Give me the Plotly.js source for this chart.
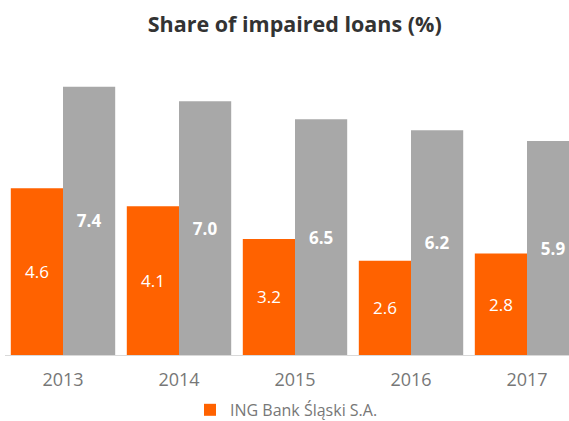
<!DOCTYPE html>
<html>
<head>
<meta charset="utf-8">
<script src="https://cdn.plot.ly/plotly-3.0.1.min.js"></script>
<style>html,body{margin:0;padding:0;background:#fff;}#chart{width:569px;height:421px;}</style>
</head>
<body>
<div id="chart"></div>
<script>
const years = ['2013', '2014', '2015', '2016', '2017'];
const ingValues = [4.6, 4.1, 3.2, 2.6, 2.8];
const sectorValues = [7.4, 7.0, 6.5, 6.2, 5.9];
const ingName = 'ING Bank Śląski S.A.';
const sectorName = 'Banking sector';

const fontFam = '"Open Sans", "DejaVu Sans", sans-serif';

const traces = [
  {
    type: 'bar', name: ingName, x: years, y: ingValues,
    marker: {color: '#FF6200'},
    text: ingValues.map(v => v.toFixed(1)),
    textposition: 'inside', insidetextanchor: 'middle', textangle: 0,
    insidetextfont: {color: '#ffffff', size: 17, family: fontFam},
    hoverinfo: 'none'
  },
  {
    type: 'bar', name: sectorName, x: years, y: sectorValues,
    marker: {color: '#A8A8A8'},
    text: sectorValues.map(v => '<b>' + v.toFixed(1) + '</b>'),
    textposition: 'inside', insidetextanchor: 'middle', textangle: 0,
    insidetextfont: {color: '#ffffff', size: 17, family: fontFam},
    showlegend: false,
    hoverinfo: 'none'
  }
];

const layout = {
  width: 569, height: 421,
  margin: {l: 5, r: 0, t: 66, b: 66, autoexpand: false},
  paper_bgcolor: '#ffffff', plot_bgcolor: '#ffffff',
  font: {family: fontFam, color: '#777777'},
  title: {
    text: '<b>Share of impaired loans (%)</b>',
    font: {size: 21.5, color: '#333333', family: fontFam},
    x: 0.518, xanchor: 'center', y: 0.943, yanchor: 'middle'
  },
  barmode: 'group', bargap: 0.1, bargroupgap: 0,
  xaxis: {
    type: 'category', range: [-0.5, 4.362],
    showline: true, linecolor: '#D9D9D9', linewidth: 1,
    ticks: '', showgrid: false, zeroline: false,
    tickfont: {size: 18, color: '#777777', family: fontFam},
    ticklabelstandoff: 8,
    fixedrange: true
  },
  yaxis: {
    range: [0, 7.97], visible: false, showgrid: false, zeroline: false, fixedrange: true
  },
  showlegend: true,
  legend: {
    orientation: 'h', x: 0.328, xanchor: 'left', y: -0.19, yanchor: 'middle',
    font: {size: 16, color: '#777777', family: fontFam},
    bgcolor: 'rgba(0,0,0,0)'
  }
};

Plotly.newPlot('chart', traces, layout, {displayModeBar: false, staticPlot: true});
</script>
</body>
</html>
